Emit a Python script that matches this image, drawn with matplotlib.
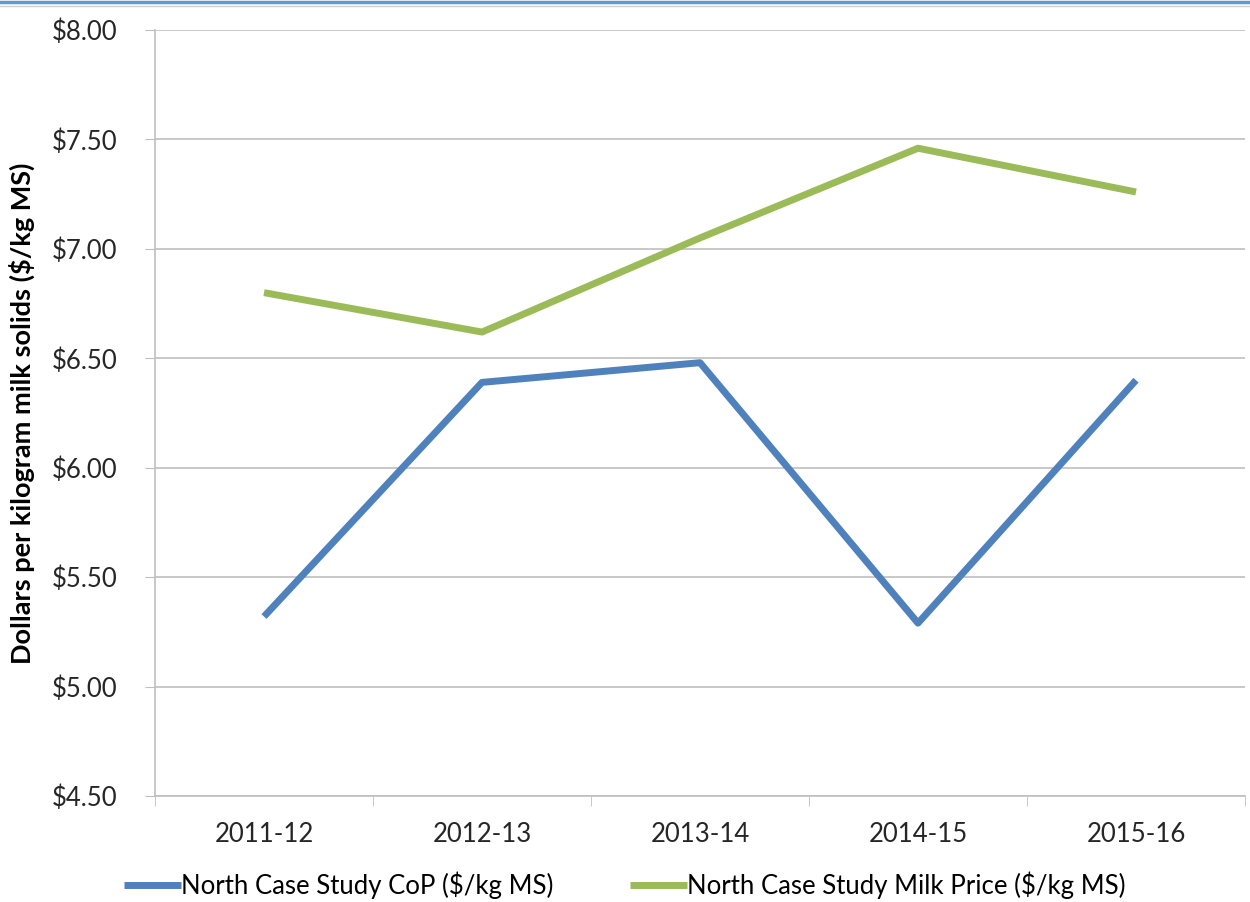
import matplotlib.pyplot as plt
from matplotlib.lines import Line2D
from matplotlib.ticker import FuncFormatter, FixedLocator

# Daten
years = ["2011-12", "2012-13", "2013-14", "2014-15", "2015-16"]
cop = [5.32, 6.39, 6.48, 5.29, 6.40]
milk_price = [6.80, 6.62, 7.05, 7.46, 7.26]

BLUE = "#4F81BD"
GREEN = "#9BBB59"
GRID = "#BFBFBF"
FS = 18.5

plt.rcParams["font.family"] = ["Lato", "DejaVu Sans"]

fig = plt.figure(figsize=(12.5, 9.02), dpi=100)
ax = fig.add_axes([0.124, 0.1175, 0.872, 0.8492])

x = list(range(len(years)))
ax.plot(x, cop, color=BLUE, lw=5, solid_capstyle="butt",
        label="North Case Study CoP ($/kg MS)")
ax.plot(x, milk_price, color=GREEN, lw=5, solid_capstyle="butt",
        label="North Case Study Milk Price ($/kg MS)")

ax.set_xlim(-0.5, len(years) - 0.5)
ax.set_ylim(4.5, 8.0)
ax.set_yticks([4.5, 5.0, 5.5, 6.0, 6.5, 7.0, 7.5, 8.0])
ax.yaxis.set_major_formatter(FuncFormatter(lambda v, p: f"${v:.2f}"))
ax.set_xticks(x)
ax.set_xticklabels(years)
ax.xaxis.set_minor_locator(FixedLocator([i - 0.5 for i in range(len(years) + 1)]))

ax.grid(axis="y", color=GRID, lw=1.2)
ax.set_axisbelow(True)
for s in ["top", "right"]:
    ax.spines[s].set_visible(False)
for s in ["left", "bottom"]:
    ax.spines[s].set_color(GRID)
    ax.spines[s].set_linewidth(1.2)

ax.tick_params(axis="y", which="major", length=7, color=GRID, labelsize=FS, pad=20, labelcolor="#262626")
ax.tick_params(axis="x", which="major", length=0, labelsize=FS, pad=19, labelcolor="#262626")
ax.tick_params(axis="x", which="minor", length=7, color=GRID, direction="out")

ax.set_ylabel("Dollars per kilogram milk solids ($/kg MS)", fontsize=19.5,
              fontweight="bold", labelpad=12)

fig.legend(loc="center", bbox_to_anchor=(0.5, 1 - 885 / 902), ncol=2, frameon=False,
           fontsize=FS, handlelength=2.2, handletextpad=0.0, columnspacing=3.0)

# blauer Rand oben
fig.add_artist(Line2D([0, 1], [0.998, 0.998], color="#5B9BD5", lw=2.5, transform=fig.transFigure))
fig.add_artist(Line2D([0, 1], [0.993, 0.993], color="#D0D0D0", lw=1, transform=fig.transFigure))

fig.savefig("out.png", dpi=100)
